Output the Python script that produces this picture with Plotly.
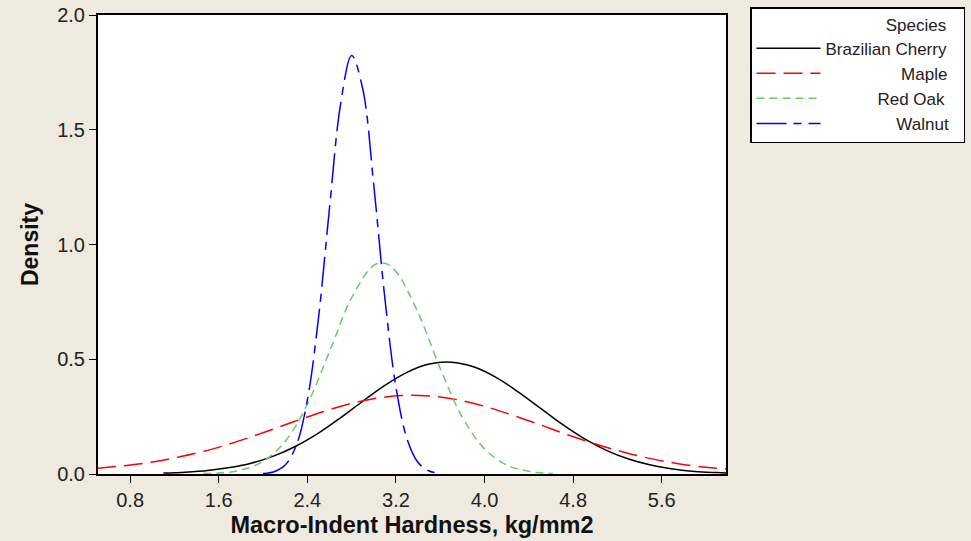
import plotly.graph_objects as go

# ---- data ----
cherry_x = [1.1, 1.3, 1.5, 1.7, 1.9, 2.1, 2.3, 2.5, 2.7, 2.9, 3.1, 3.3, 3.5, 3.7,
            3.9, 4.1, 4.3, 4.5, 4.7, 4.9, 5.1, 5.3, 5.5, 5.7, 5.9, 6.1, 6.2]
cherry_y = [0.004, 0.008, 0.015, 0.028, 0.048, 0.079, 0.122, 0.178, 0.245, 0.317,
            0.386, 0.443, 0.479, 0.487, 0.467, 0.422, 0.359, 0.288, 0.217, 0.154,
            0.103, 0.065, 0.039, 0.022, 0.011, 0.006, 0.004]

maple_x = [0.5, 0.75, 1.0, 1.25, 1.5, 1.75, 2.0, 2.25, 2.5, 2.75, 3.0, 3.25, 3.5,
           3.75, 4.0, 4.25, 4.5, 4.75, 5.0, 5.25, 5.5, 5.75, 6.0, 6.2]
maple_y = [0.025, 0.036, 0.052, 0.075, 0.103, 0.139, 0.180, 0.223, 0.265, 0.302,
           0.328, 0.342, 0.340, 0.324, 0.295, 0.257, 0.215, 0.171, 0.131, 0.096,
           0.067, 0.045, 0.029, 0.022]

redoak_x = [1.46, 1.6, 1.8, 2.0, 2.2, 2.4, 2.6, 2.8, 3.0, 3.1, 3.2, 3.4, 3.6, 3.8,
            4.0, 4.2, 4.4, 4.62]
redoak_y = [0.002, 0.004, 0.017, 0.055, 0.142, 0.304, 0.533, 0.768, 0.909, 0.918,
            0.882, 0.703, 0.460, 0.247, 0.109, 0.039, 0.012, 0.002]

walnut_x = [2.0, 2.1, 2.2, 2.3, 2.4, 2.5, 2.6, 2.7, 2.8, 2.9, 3.0, 3.1, 3.2, 3.3,
            3.4, 3.5, 3.58]
walnut_y = [0.002, 0.010, 0.039, 0.124, 0.322, 0.677, 1.158, 1.611, 1.824, 1.679,
            1.258, 0.766, 0.379, 0.153, 0.050, 0.013, 0.004]

species = ["Brazilian Cherry", "Maple", "Red Oak", "Walnut"]
x_ticks = [0.8, 1.6, 2.4, 3.2, 4.0, 4.8, 5.6]
y_ticks = [0.0, 0.5, 1.0, 1.5, 2.0]

FONT = "Liberation Sans"
BG = "#EEEAE0"
NB = "\u00a0"

# padding (non-breaking spaces) to right-align legend labels like the original
pad_left = {"Brazilian Cherry": 0, "Maple": 16, "Red Oak": 11, "Walnut": 15}
series = [
    (species[0], cherry_x, cherry_y, "black", "solid"),
    (species[1], maple_x, maple_y, "#FF0000", "19px,8px"),
    (species[2], redoak_x, redoak_y, "#66CC66", "8px,5px"),
    (species[3], walnut_x, walnut_y, "#0000FF", "30px,7px,8px,7px"),
]

fig = go.Figure()
for name, xs, ys, col, dash in series:
    label = NB * pad_left[name] + name + NB * 2
    fig.add_trace(go.Scatter(
        x=xs, y=ys, mode="lines", name=label, legendgroup=name,
        line=dict(color=col, width=1.5, dash=dash, shape="spline", smoothing=1.0),
    ))

fig.update_layout(
    width=971, height=541,
    paper_bgcolor=BG, plot_bgcolor="white",
    margin=dict(l=98, r=245, t=15, b=67),
    font=dict(family=FONT, size=17, color="black"),
    showlegend=True,
    legend=dict(
        xref="container", yref="container",
        x=750 / 971, y=1 - 7 / 541, xanchor="left", yanchor="top",
        bgcolor="white", bordercolor="black", borderwidth=1.5,
        font=dict(family=FONT, size=17, color="#222222"),
        title=dict(text=NB * 28 + "Species", font=dict(family=FONT, size=17, color="#222222")),
        itemwidth=64, tracegroupgap=0,
    ),
    xaxis=dict(
        range=[0.51, 6.18], tickvals=x_ticks,
        ticktext=[f"{v:.1f}" for v in x_ticks],
        ticks="outside", ticklen=7, tickwidth=1, tickcolor="black",
        showline=True, linecolor="black", linewidth=2, mirror=True,
        showgrid=False, zeroline=False, automargin=False,
        tickfont=dict(family=FONT, size=20, color="#222222"),
        title=dict(text="<b>Macro-Indent Hardness, kg/mm2</b>",
                   font=dict(family=FONT, size=23.5, color="#111111"), standoff=7),
    ),
    yaxis=dict(
        range=[0, 2.0], tickvals=y_ticks,
        ticktext=[f"{v:.1f}" for v in y_ticks],
        ticks="outside", ticklen=7, tickwidth=1, tickcolor="black",
        showline=True, linecolor="black", linewidth=2, mirror=True,
        showgrid=False, zeroline=False, automargin=False,
        tickfont=dict(family=FONT, size=20, color="#222222"),
        title=dict(text="<b>Density</b>", font=dict(family=FONT, size=23, color="#111111"),
                   standoff=12),
    ),
)

fig.write_html("out.html")
